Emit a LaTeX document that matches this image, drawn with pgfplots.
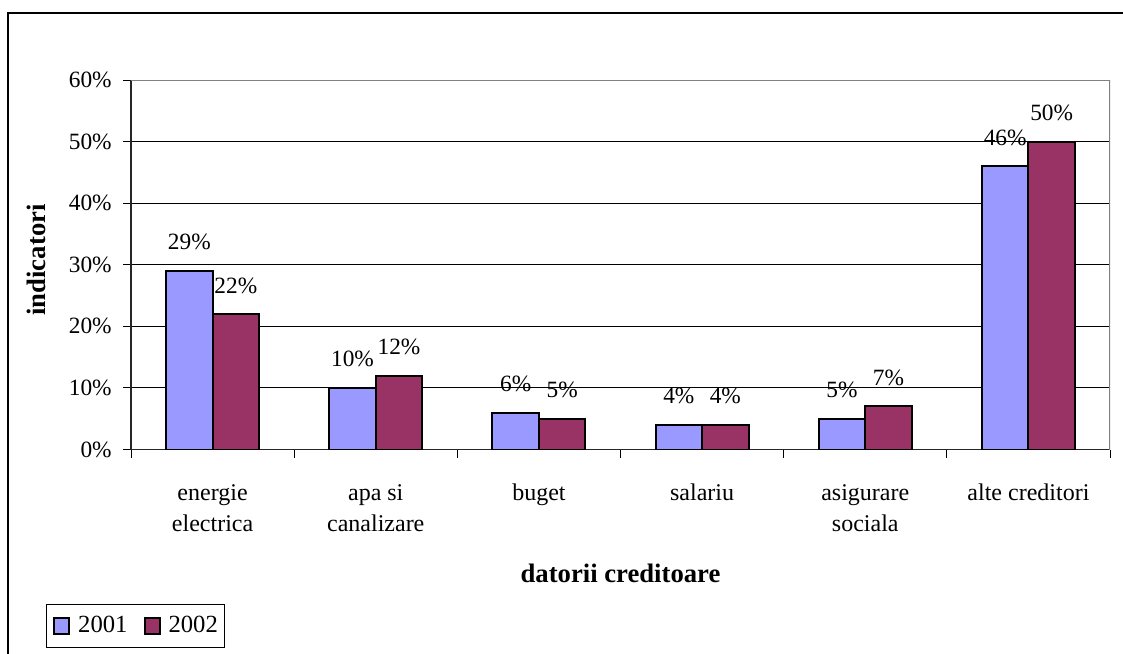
\documentclass[border=0pt]{standalone}
\usepackage{fontspec}
\setmainfont{Liberation Serif}
\usepackage{pgfplots}
\pgfplotsset{compat=1.18}
\definecolor{cA}{HTML}{9999FF}
\definecolor{cB}{HTML}{993366}
\definecolor{frame}{HTML}{808080}
\begin{document}
\begin{tikzpicture}[x=0.75pt,y=0.75pt]
\useasboundingbox (0,0) rectangle (1123,653);
\clip (0,0) rectangle (1123,653);
\draw[line width=1pt] (8,-10) rectangle (1140,640);
\begin{axis}[
  at={(98.25pt,152.625pt)}, anchor=south west, scale only axis,
  width=734.25pt, height=277.1pt,
  xmin=-0.5, xmax=5.5, ymin=0, ymax=60,
  /pgf/number format/assume math mode=true,
  ybar=0pt, bar width=0.285,
  axis x line*=bottom, axis y line*=left,
  axis line style={-, black!85, line width=1.2pt},
  ytick={0,10,...,60},
  yticklabel={\pgfmathprintnumber{\tick}\%},
  tick align=outside, major tick length=6pt,
  ytick style={black, line width=0.75pt},
  ymajorgrids, grid style={black, line width=0.75pt},
  xtick={0,...,5},
  xticklabels={energie\\electrica, apa si\\canalizare, buget, salariu, asigurare\\sociala, alte creditori},
  xtick style={draw=none},
  extra x ticks={-0.5,0.5,1.5,2.5,3.5,4.5,5.5},
  extra x tick labels={},
  extra x tick style={grid=none, xtick style={draw=black, line width=0.75pt}},
  xticklabel style={align=center, font=\fontsize{18}{23.8}\selectfont, yshift=-16.5pt},
  yticklabel style={font=\fontsize{17.5}{21}\selectfont, xshift=-5pt},
  nodes near coords={\pgfmathprintnumber{\pgfplotspointmeta}\%},
  every node near coord/.append style={font=\fontsize{17.5}{21}\selectfont, black, yshift=11.4pt},
  xlabel={datorii creditoare},
  xlabel style={at={(axis description cs:0.5,-0.3613)}, anchor=base, font=\fontsize{20}{24}\selectfont\bfseries},
  ylabel={indicatori},
  ylabel style={at={(axis description cs:-0.087,0.513)}, anchor=base, font=\fontsize{20}{24}\selectfont\bfseries},
  legend columns=2,
  legend style={at={(axis description cs:-0.0868,-0.537)}, anchor=south west,
    draw=black, line width=0.75pt, inner xsep=5pt, inner ysep=9pt,
    font=\fontsize{18.5}{20}\selectfont,
    nodes={inner sep=0pt},
    /tikz/every odd column/.append style={column sep=6pt},
    /tikz/every even column/.append style={column sep=12pt}},
  legend image code/.code={\draw[#1, line width=1.5pt] (0.75pt,-6.75pt) rectangle (12pt,5.25pt);},
]
\addplot[fill=cA, draw=black, line width=1.5pt, bar shift=-0.1425] coordinates {(0,29) (1,10) (2,6) (3,4) (4,5) (5,46)};
\addplot[fill=cB, draw=black, line width=1.5pt, bar shift=0.1425] coordinates {(0,22) (1,12) (2,5) (3,4) (4,7) (5,50)};
\legend{2001,2002}
\draw[frame, line width=1.5pt] (rel axis cs:0,1) -- (rel axis cs:1,1) -- (rel axis cs:1,0);
\end{axis}
\end{tikzpicture}
\end{document}
